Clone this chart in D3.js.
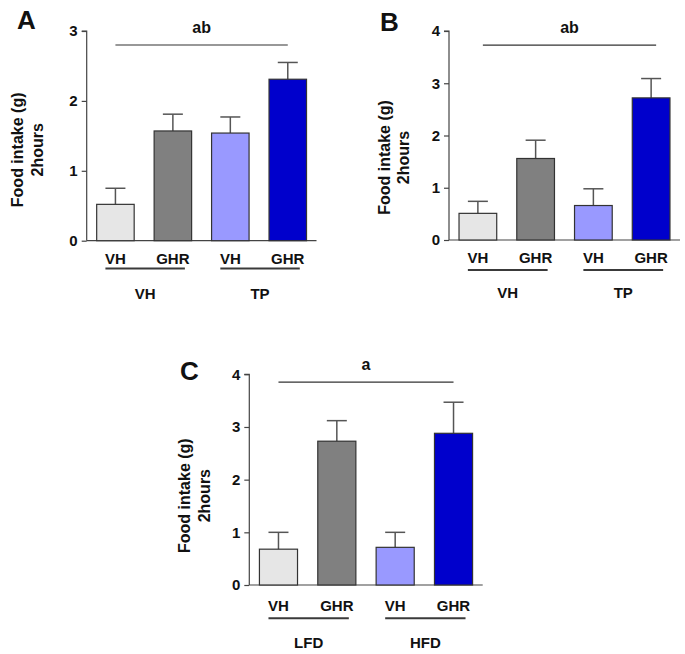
<!DOCTYPE html>
<html>
<head>
<meta charset="utf-8">
<script src="https://cdn.jsdelivr.net/npm/d3@7"></script>
<style>
  html, body { margin: 0; padding: 0; background: #fff; }
  svg { display: block; }
  text { font-family: Arial, "Liberation Sans", sans-serif; font-weight: bold; fill: #111; }
</style>
</head>
<body>
<svg id="chart" width="685" height="654"></svg>
<script>
// ---- data ----
const categories = ["VH", "GHR", "VH", "GHR"];
const groupsAB = ["VH", "TP"];
const groupsC = ["LFD", "HFD"];

const valuesA = [0.52, 1.57, 1.54, 2.31];
const errorsA = [0.23, 0.24, 0.23, 0.24];
const valuesB = [0.51, 1.56, 0.66, 2.72];
const errorsB = [0.23, 0.35, 0.32, 0.37];
const valuesC = [0.68, 2.73, 0.715, 2.88];
const errorsC = [0.32, 0.39, 0.285, 0.59];

const ticksA = [0, 1, 2, 3];
const ticksB = [0, 1, 2, 3, 4];
const ticksC = [0, 1, 2, 3, 4];

const panelLetters = ["A", "B", "C"];
const sigLabels = ["ab", "ab", "a"];
const sigLevels = [2.8, 3.73, 3.85];

const barColors = ["#e6e6e6", "#808080", "#9999ff", "#0000cc"];
const yLabelLines = ["Food intake (g)", "2hours"];

// ---- layout ----
const panels = [
  { letter: panelLetters[0], values: valuesA, errors: errorsA, ticks: ticksA, groups: groupsAB,
    sig: sigLabels[0], sigLevel: sigLevels[0],
    x0: 86.7, x1: 316.5, yTop: 31, y0: 240.7,
    letterX: 17, letterY: 28.5, yl1: 23, yl2: 43, ylCenterDy: 14,
    catDy: 22.8, lineDy: 27.8, grpDy: 57.8 },
  { letter: panelLetters[1], values: valuesB, errors: errorsB, ticks: ticksB, groups: groupsAB,
    sig: sigLabels[1], sigLevel: sigLevels[1],
    x0: 449, x1: 680, yTop: 31, y0: 240,
    letterX: 380, letterY: 31, yl1: 389.5, yl2: 408.5, ylCenterDy: 22,
    catDy: 23.3, lineDy: 30, grpDy: 58.3, sigShift: 5 },
  { letter: panelLetters[2], values: valuesC, errors: errorsC, ticks: ticksC, groups: groupsC,
    sig: sigLabels[2], sigLevel: sigLevels[2],
    x0: 249.3, x1: 482.7, yTop: 374.3, y0: 585,
    letterX: 180, letterY: 379.5, yl1: 190, yl2: 210, ylCenterDy: 16,
    catDy: 25.7, lineDy: 33.3, grpDy: 63.3 }
];

const svg = d3.select("#chart");
const axisColor = "#444";

panels.forEach(p => {
  const g = svg.append("g");
  const yMax = d3.max(p.ticks);
  const y = d3.scaleLinear().domain([0, yMax]).range([p.y0, p.yTop]);
  const x = d3.scaleBand().domain(d3.range(categories.length))
    .range([p.x0, p.x1]).paddingInner(0.33).paddingOuter(0.165);

  // y axis
  const yAxis = d3.axisLeft(y).tickValues(p.ticks).tickFormat(d3.format("d"))
    .tickSize(5).tickPadding(4);
  const ya = g.append("g").attr("transform", `translate(${p.x0},0)`).call(yAxis);
  ya.select(".domain").attr("stroke", axisColor).attr("stroke-width", 1.2)
    .attr("d", `M-5,${p.yTop}H0V${p.y0}`);
  ya.selectAll(".tick line").attr("stroke", axisColor).attr("stroke-width", 1.2);
  ya.selectAll(".tick text").attr("font-size", 15).attr("font-weight", "bold")
    .attr("font-family", "Arial, 'Liberation Sans', sans-serif").attr("fill", "#111");

  // x axis line
  const xAxis = d3.axisBottom(x).tickSize(0).tickFormat("");
  const xa = g.append("g").attr("transform", `translate(0,${p.y0})`).call(xAxis);
  xa.select(".domain").attr("stroke", axisColor).attr("stroke-width", 1.2)
    .attr("d", `M${p.x0},0H${p.x1}`);

  // error bars
  const bw = x.bandwidth();
  const capW = 20;
  p.values.forEach((v, i) => {
    const cx = x(i) + bw / 2;
    const top = y(v + p.errors[i]);
    g.append("line").attr("x1", cx).attr("x2", cx).attr("y1", y(v)).attr("y2", top)
      .attr("stroke", "#555").attr("stroke-width", 1.5);
    g.append("line").attr("x1", cx - capW / 2).attr("x2", cx + capW / 2).attr("y1", top).attr("y2", top)
      .attr("stroke", "#555").attr("stroke-width", 1.5);
  });

  // bars
  g.selectAll("rect.bar").data(p.values).enter().append("rect")
    .attr("class", "bar")
    .attr("x", (d, i) => x(i) + 0.5)
    .attr("y", d => y(d))
    .attr("width", bw - 1)
    .attr("height", d => p.y0 - y(d))
    .attr("fill", (d, i) => barColors[i])
    .attr("stroke", "#333").attr("stroke-width", 1.2);

  // category labels
  categories.forEach((c, i) => {
    g.append("text").attr("x", x(i) + bw / 2).attr("y", p.y0 + p.catDy)
      .attr("text-anchor", "middle").attr("font-size", 15).text(c);
  });

  // group underlines and labels
  p.groups.forEach((gr, k) => {
    const c1 = x(2 * k) + bw / 2, c2 = x(2 * k + 1) + bw / 2;
    g.append("line").attr("x1", c1 - 10).attr("x2", c2 + 12)
      .attr("y1", p.y0 + p.lineDy).attr("y2", p.y0 + p.lineDy)
      .attr("stroke", "#3a3a3a").attr("stroke-width", 2);
    g.append("text").attr("x", (c1 + c2) / 2 + 1).attr("y", p.y0 + p.grpDy)
      .attr("text-anchor", "middle").attr("font-size", 15).text(gr);
  });

  // significance line
  const s = p.sigShift || 0;
  const sx1 = x(0) + bw / 2 + s, sx2 = x(3) + bw / 2 + s;
  const sy = y(p.sigLevel);
  g.append("line").attr("x1", sx1).attr("x2", sx2).attr("y1", sy).attr("y2", sy)
    .attr("stroke", "#333").attr("stroke-width", 1.2);
  g.append("text").attr("x", (sx1 + sx2) / 2).attr("y", sy - 12)
    .attr("text-anchor", "middle").attr("font-size", 16).text(p.sig);

  // panel letter
  g.append("text").attr("x", p.letterX).attr("y", p.letterY)
    .attr("font-size", 26).text(p.letter);

  // y label (two lines, rotated)
  const cy = (p.y0 + p.yTop) / 2 + p.ylCenterDy;
  [p.yl1, p.yl2].forEach((bx, j) => {
    g.append("text").attr("transform", `translate(${bx},${cy}) rotate(-90)`)
      .attr("text-anchor", "middle").attr("font-size", 16).text(yLabelLines[j]);
  });
});
</script>
</body>
</html>
